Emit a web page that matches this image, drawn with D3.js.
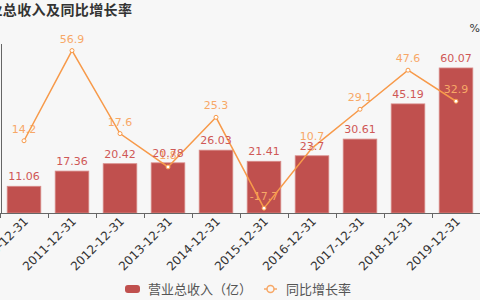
<!DOCTYPE html>
<html>
<head>
<meta charset="utf-8">
<script src="https://cdn.jsdelivr.net/npm/d3@7"></script>
<style>
  body { margin: 0; background: #f7f7f7; }
  svg { display: block; font-family: "DejaVu Sans", "Noto Sans CJK SC", sans-serif; }
</style>
</head>
<body>
<svg id="chart" width="480" height="300"></svg>
<script>
var years = ["2010-12-31", "2011-12-31", "2012-12-31", "2013-12-31", "2014-12-31",
  "2015-12-31", "2016-12-31", "2017-12-31", "2018-12-31", "2019-12-31"];
var revenue = [11.06, 17.36, 20.42, 20.78, 26.03, 21.41, 23.7, 30.61, 45.19, 60.07];
var growth = [14.2, 56.9, 17.6, 1.8, 25.3, -17.7, 10.7, 29.1, 47.6, 32.9];
var revenueDomain = [0, 70];
var growthDomain = [-20, 60];

var svg = d3.select("#chart");
var top_ = 44, bottom = 213;

var x = d3.scaleBand().domain(years).range([0, 480]).paddingInner(0.3).paddingOuter(0.15);
var yL = d3.scaleLinear().domain(revenueDomain).range([bottom, top_]);
var yR = d3.scaleLinear().domain(growthDomain).range([bottom, top_]);

svg.append("rect").attr("width", 480).attr("height", 300).attr("fill", "#f7f7f7");

// title (cut off on the left like the original)
svg.append("text")
  .attr("x", -26).attr("y", 15)
  .attr("font-size", 14).attr("font-weight", "bold")
  .attr("fill", "#333").attr("letter-spacing", 0.4)
  .text("营业总收入及同比增长率");

svg.append("text")
  .attr("x", 480).attr("y", 32).attr("text-anchor", "end")
  .attr("font-size", 11).attr("fill", "#333")
  .text("%");

// bars
svg.selectAll(".bar")
  .data(years)
  .enter()
  .append("rect")
  .attr("class", "bar")
  .attr("x", d => x(d))
  .attr("width", x.bandwidth())
  .attr("y", (d, i) => yL(revenue[i]))
  .attr("height", (d, i) => bottom - yL(revenue[i]))
  .attr("fill", "#c0504e")
  .attr("stroke", "#d88a88")
  .attr("stroke-width", 0.8);

// line labels (under the bar labels)
svg.selectAll(".glabel")
  .data(years)
  .enter()
  .append("text")
  .attr("x", d => x(d) + x.bandwidth() / 2)
  .attr("y", (d, i) => yR(growth[i]) - 8)
  .attr("text-anchor", "middle")
  .attr("font-size", 11)
  .attr("fill", "#f7a867")
  .text((d, i) => growth[i]);

// axes
svg.append("line").attr("x1", 1.5).attr("x2", 1.5).attr("y1", top_).attr("y2", bottom)
  .attr("stroke", "#666");
svg.append("line").attr("x1", 0).attr("x2", 480).attr("y1", bottom + 0.5).attr("y2", bottom + 0.5)
  .attr("stroke", "#666");
svg.selectAll(".tick")
  .data(d3.range(years.length + 1))
  .enter()
  .append("line")
  .attr("x1", i => Math.round(i * x.step()) + 0.5)
  .attr("x2", i => Math.round(i * x.step()) + 0.5)
  .attr("y1", bottom).attr("y2", bottom + 5)
  .attr("stroke", "#666");

svg.selectAll(".xlabel")
  .data(years)
  .enter()
  .append("text")
  .attr("transform", d => `translate(${x(d) + x.bandwidth() / 2 + 5},${bottom + 9}) rotate(-45)`)
  .attr("text-anchor", "end")
  .attr("font-size", 12)
  .attr("fill", "#333")
  .text(d => d);

// line
var line = d3.line()
  .x((d, i) => x(years[i]) + x.bandwidth() / 2)
  .y(d => yR(d));

svg.append("path")
  .datum(growth)
  .attr("d", line)
  .attr("fill", "none")
  .attr("stroke", "#f79a4a")
  .attr("stroke-width", 1.5);

svg.selectAll(".dot")
  .data(growth)
  .enter()
  .append("circle")
  .attr("cx", (d, i) => x(years[i]) + x.bandwidth() / 2)
  .attr("cy", d => yR(d))
  .attr("r", 2)
  .attr("fill", "#fff")
  .attr("stroke", "#f79a4a")
  .attr("stroke-width", 1);

// bar labels
svg.selectAll(".rlabel")
  .data(years)
  .enter()
  .append("text")
  .attr("x", d => x(d) + x.bandwidth() / 2)
  .attr("y", (d, i) => yL(revenue[i]) - 6)
  .attr("text-anchor", "middle")
  .attr("font-size", 11)
  .attr("fill", "#cf5856")
  .text((d, i) => revenue[i]);

// legend
var lg = svg.append("g").attr("transform", "translate(0,289)");
lg.append("rect").attr("x", 125).attr("y", -4).attr("width", 15).attr("height", 8)
  .attr("rx", 3).attr("fill", "#c0504e");
lg.append("text").attr("x", 148).attr("y", 5).attr("font-size", 13).attr("fill", "#555")
  .text("营业总收入（亿）");
lg.append("line").attr("x1", 264).attr("x2", 277).attr("y1", 0).attr("y2", 0)
  .attr("stroke", "#f7a867").attr("stroke-width", 1.5);
lg.append("circle").attr("cx", 270.5).attr("cy", 0).attr("r", 3.5)
  .attr("fill", "#f7f7f7").attr("stroke", "#f7a867").attr("stroke-width", 1.5);
lg.append("text").attr("x", 286).attr("y", 5).attr("font-size", 13).attr("fill", "#555")
  .text("同比增长率");
</script>
</body>
</html>
